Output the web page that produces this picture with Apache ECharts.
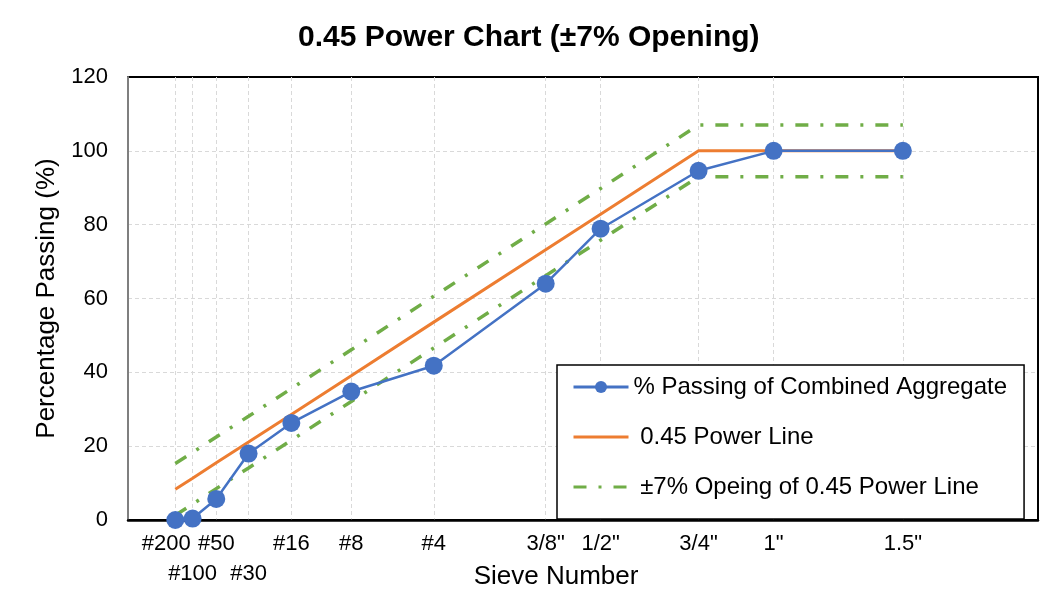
<!DOCTYPE html>
<html>
<head>
<meta charset="utf-8">
<title>0.45 Power Chart</title>
<script src="https://cdn.jsdelivr.net/npm/echarts@6/dist/echarts.min.js"></script>
<style>
  html, body { margin: 0; padding: 0; background: #fff; }
  #chart { width: 1047px; height: 595px; }
</style>
</head>
<body>
<div id="chart"></div>
<script>
// sieve opening (mm) raised to the 0.45 power
const sieveLabels = ['#200', '#100', '#50', '#30', '#16', '#8', '#4', '3/8"', '1/2"', '3/4"', '1"', '1.5"'];
const sieveX = [0.312, 0.426, 0.582, 0.795, 1.077, 1.472, 2.016, 2.754, 3.116, 3.762, 4.257, 5.109];
const secondRowLabels = ['#100', '#30'];

const passing = [0, 0.4, 5.7, 18, 26.3, 34.8, 41.8, 64, 78.9, 94.6, 100, 100];
const powerLine = [8.3, 11.3, 15.5, 21.1, 28.6, 39.1, 53.6, 73.2, 82.8, 100, 100, 100];
const upperLimit = [15.3, 18.3, 22.5, 28.1, 35.6, 46.1, 60.6, 80.2, 89.8, 107, 107, 107];
const lowerLimit = [1.3, 4.3, 8.5, 14.1, 21.6, 32.1, 46.6, 66.2, 75.8, 93, 93, 93];

const NAME_PASSING = '% Passing of Combined Aggregate';
const NAME_POWER = '0.45 Power Line';
const NAME_LIMIT = '±7% Opeing of 0.45 Power Line';

const toPairs = (ys) => sieveX.map((x, i) => [x, ys[i]]);

const gridLine = { color: '#d9d9d9', width: 1, type: [4, 3] };
const limitStyle = { color: '#70AD47', width: 3.5, type: [13, 12, 3, 12] };

var myChart = echarts.init(document.getElementById('chart'));
var option = {
  animation: false,
  textStyle: { fontFamily: 'Liberation Sans, Arial, sans-serif', color: '#000' },
  title: {
    text: '0.45 Power Chart (±7% Opening)',
    left: 298,
    top: 23,
    padding: 0,
    textStyle: { fontSize: 30, fontWeight: 'bold', color: '#000', lineHeight: 30 }
  },
  grid: {
    left: 128,
    right: 9,
    top: 77,
    bottom: 74,
    show: true,
    borderColor: '#000',
    borderWidth: 2
  },
  legend: {
    orient: 'vertical',
    left: 557,
    top: 365,
    padding: [7, 17, 17, 15],
    backgroundColor: '#fff',
    borderColor: '#000',
    borderWidth: 1.5,
    borderRadius: 0,
    itemWidth: 55,
    itemHeight: 15,
    itemGap: 20,
    lineStyle: { width: 3 },
    data: [
      NAME_PASSING,
      { name: NAME_POWER, itemStyle: { opacity: 0 } },
      { name: NAME_LIMIT, itemStyle: { opacity: 0 } }
    ],
    formatter: (name) => (name === NAME_PASSING ? name : ' ' + name),
    textStyle: { fontSize: 24, color: '#000', lineHeight: 30 }
  },
  xAxis: {
    type: 'value',
    min: 0,
    max: 6,
    name: 'Sieve Number',
    nameLocation: 'middle',
    nameGap: 44,
    nameMoveOverlap: false,
    nameTextStyle: { fontSize: 26, color: '#000', lineHeight: 26, padding: [0, 54, 0, 0] },
    axisLine: { show: true, lineStyle: { color: '#000', width: 2.5 } },
    axisTick: { show: false, customValues: sieveX },
    axisLabel: {
      // blank label at the axis origin so the min-label overlap check leaves the sieve labels alone
      customValues: [0].concat(sieveX),
      hideOverlap: false,
      showMinLabel: true,
      showMaxLabel: true,
      fontSize: 22,
      lineHeight: 30,
      margin: 9,
      color: '#000',
      formatter: (value) => {
        const i = sieveX.findIndex((x) => Math.abs(x - value) < 1e-6);
        if (i < 0) return '';
        const label = sieveLabels[i];
        if (i === 0) return '{first|' + label + '}';
        return secondRowLabels.includes(label) ? '\n' + label : label;
      },
      rich: {
        first: { fontSize: 22, lineHeight: 30, color: '#000', padding: [0, 18, 0, 0] }
      }
    },
    splitLine: { show: true, lineStyle: gridLine }
  },
  yAxis: {
    type: 'value',
    min: 0,
    max: 120,
    interval: 20,
    name: 'Percentage Passing (%)',
    nameLocation: 'middle',
    nameGap: 68,
    nameMoveOverlap: false,
    nameTextStyle: { fontSize: 26, color: '#000', lineHeight: 26 },
    axisLine: { show: true, lineStyle: { color: '#7f7f7f', width: 2 } },
    axisTick: { show: false },
    axisLabel: { fontSize: 22, margin: 20, color: '#000' },
    splitLine: { show: true, showMinLine: false, showMaxLine: false, lineStyle: gridLine }
  },
  series: [
    {
      name: NAME_LIMIT,
      type: 'line',
      symbol: 'none',
      itemStyle: { color: '#70AD47' },
      lineStyle: limitStyle,
      data: toPairs(upperLimit)
    },
    {
      name: NAME_LIMIT,
      type: 'line',
      symbol: 'none',
      itemStyle: { color: '#70AD47' },
      lineStyle: limitStyle,
      data: toPairs(lowerLimit)
    },
    {
      name: NAME_POWER,
      type: 'line',
      symbol: 'none',
      itemStyle: { color: '#ED7D31' },
      lineStyle: { color: '#ED7D31', width: 3 },
      data: toPairs(powerLine)
    },
    {
      name: NAME_PASSING,
      type: 'line',
      symbol: 'circle',
      symbolSize: 18,
      itemStyle: { color: '#4472C4' },
      lineStyle: { color: '#4472C4', width: 2.5 },
      data: toPairs(passing)
    }
  ]
};
option && myChart.setOption(option);
</script>
</body>
</html>
